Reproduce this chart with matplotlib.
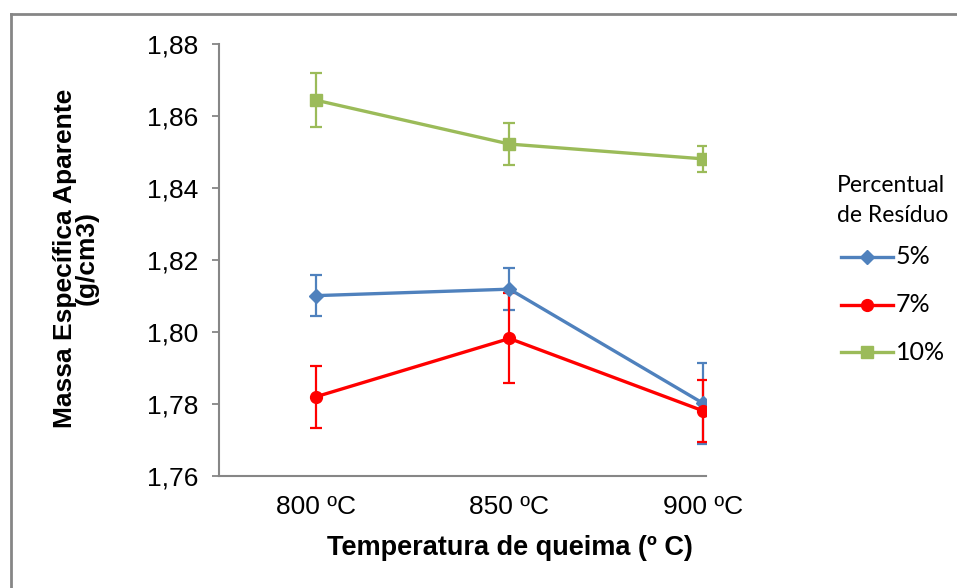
import matplotlib

matplotlib.use("Agg")
import matplotlib.pyplot as plt  # noqa: E402
from matplotlib.lines import Line2D  # noqa: E402

plt.rcParams["font.family"] = ["Liberation Sans", "DejaVu Sans"]

# Data (density, g/cm3) with error bars
temps = ["800 ºC", "850 ºC", "900 ºC"]
series_names = ["5%", "7%", "10%"]
vals_5 = [1.8101, 1.8119, 1.7802]
err_5 = [0.0056, 0.0058, 0.0112]
vals_7 = [1.7820, 1.7982, 1.7781]
err_7 = [0.0086, 0.0125, 0.0086]
vals_10 = [1.8644, 1.8522, 1.8481]
err_10 = [0.0075, 0.0059, 0.0036]
y_ticks = [1.76, 1.78, 1.80, 1.82, 1.84, 1.86, 1.88]

COLORS = {"5%": "#4F81BD", "7%": "#FF0000", "10%": "#9BBB59"}
MARKERS = {"5%": ("D", 7.5), "7%": ("o", 8.5), "10%": ("s", 9)}
GRAY = "#868686"
LEG_FONT = ["Lato", "DejaVu Sans"]

W, H = 957, 588
fig = plt.figure(figsize=(W / 100, H / 100), dpi=100)
ax = fig.add_axes([219 / W, 1 - 476 / H, (706 - 219) / W, (476 - 44) / H])


def fx(px):
    return px / W


def fy(py):
    return 1 - py / H


xs = range(len(temps))
for name, vals, errs in [("5%", vals_5, err_5), ("7%", vals_7, err_7),
                         ("10%", vals_10, err_10)]:
    m, ms = MARKERS[name]
    c = COLORS[name]
    ax.errorbar(xs, vals, yerr=errs, color=c, lw=2.4, marker=m, ms=ms,
                mec=c, ecolor=c, elinewidth=1.6, capsize=4.5, capthick=1.6,
                zorder=3)

ax.set_xlim(-0.5, 2.015)
ax.set_ylim(1.76, 1.88)
ax.set_yticks(y_ticks)
ax.set_yticklabels([f"{t:.2f}".replace(".", ",") for t in y_ticks], fontsize=19)
ax.set_xticks(list(xs))
ax.set_xticklabels(temps, fontsize=19)
ax.tick_params(axis="x", length=0, pad=14)
ax.tick_params(axis="y", length=5, width=1.3, color=GRAY, pad=10)
ax.spines[["top", "right"]].set_visible(False)
for s in ("left", "bottom"):
    ax.spines[s].set_color(GRAY)
    ax.spines[s].set_linewidth(1.5)

fig.text(fx(510), fy(548), "Temperatura de queima (º C)",
         fontsize=19.5, fontweight="bold", ha="center", va="center")
fig.text(fx(76), fy(258), "Massa Específica Aparente\n(g/cm3)",
         fontsize=19, fontweight="bold", ha="center", va="center",
         rotation=90, linespacing=0.9)

# legend, placed by hand like the Excel one
fig.text(fx(837), fy(186), "Percentual", fontsize=16.5, family=LEG_FONT,
         ha="left", va="center")
fig.text(fx(837), fy(216), "de Resíduo", fontsize=16.5, family=LEG_FONT,
         ha="left", va="center")
for name, ypx in zip(series_names, [257, 305, 352]):
    m, ms = MARKERS[name]
    c = COLORS[name]
    fig.add_artist(Line2D([fx(841), fx(893)], [fy(ypx), fy(ypx)],
                          transform=fig.transFigure, color=c, lw=2.4))
    fig.add_artist(Line2D([fx(867)], [fy(ypx)], transform=fig.transFigure,
                          color=c, marker=m, ms=ms, mec=c))
    fig.text(fx(896), fy(ypx), name, fontsize=18, family=LEG_FONT,
             ha="left", va="center")

# outer chart border (cropped at right and bottom)
fig.add_artist(Line2D([fx(11), fx(11)], [0, fy(14)],
                      transform=fig.transFigure, color=GRAY, lw=2))
fig.add_artist(Line2D([fx(11), 1], [fy(14), fy(14)],
                      transform=fig.transFigure, color=GRAY, lw=2))

fig.savefig("out.png", dpi=100)
